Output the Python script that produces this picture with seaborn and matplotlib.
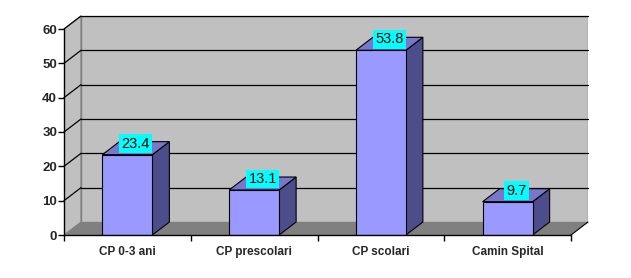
import matplotlib
matplotlib.use("Agg")
import matplotlib.pyplot as plt
from matplotlib.patches import Polygon
import seaborn as sns
import pandas as pd

categories = ["CP 0-3 ani", "CP prescolari", "CP scolari", "Camin Spital"]
values = [23.4, 13.1, 53.8, 9.7]
yticks = [0, 10, 20, 30, 40, 50, 60]

sns.set_theme(style="white")
plt.rcParams["font.family"] = ["Liberation Sans", "DejaVu Sans"]

W, H, DPI = 631, 278, 100
fig = plt.figure(figsize=(W / DPI, H / DPI), dpi=DPI)
# pixel geometry
x0_px, x1_px, xb_px = 64, 571, 588
y0_px, y60_px, yb_px = 235, 29, 16
ax = fig.add_axes([x0_px / W, (H - y0_px) / H, (xb_px - x0_px) / W, (y0_px - yb_px) / H])

ncat = len(categories)
dx = (xb_px - x1_px) * ncat / (x1_px - x0_px)
dy = (y60_px - yb_px) * 60 / (y0_px - y60_px)
ymax = 60
xl, xr = -0.5, ncat - 0.5

wall = "#C0C0C0"
edge = "#808080"
# left wall, back wall, floor
ax.add_patch(Polygon([(xl, 0), (xl, ymax), (xl + dx, ymax + dy), (xl + dx, dy)],
                     closed=True, facecolor=wall, edgecolor=edge, lw=0.8, zorder=0.3))
ax.add_patch(Polygon([(xl + dx, dy), (xl + dx, ymax + dy), (xr + dx, ymax + dy), (xr + dx, dy)],
                     closed=True, facecolor=wall, edgecolor=edge, lw=1.0, zorder=0.3))
ax.add_patch(Polygon([(xl, 0), (xr, 0), (xr + dx, dy), (xl + dx, dy)],
                     closed=True, facecolor="#808080", edgecolor="none", zorder=0.4))
ax.plot([xr, xr + dx], [0, dy], color="black", lw=0.8, zorder=0.5, clip_on=False)

# gridlines
for t in yticks[1:]:
    ax.plot([xl + dx, xr + dx], [t + dy, t + dy], color="black", lw=0.9, zorder=0.6, clip_on=False)
    ax.plot([xl, xl + dx], [t, t + dy], color="black", lw=0.9, zorder=0.6, clip_on=False)

df = pd.DataFrame({"cat": categories, "val": values})
bw = 50 / ((x1_px - x0_px) / ncat)
sns.barplot(data=df, x="cat", y="val", color="#9999FF", saturation=1, width=bw,
            edgecolor="black", linewidth=0.8, ax=ax, zorder=3)

for i, v in enumerate(values):
    l, r = i - bw / 2, i + bw / 2
    ax.add_patch(Polygon([(r, 0), (r, v), (r + dx, v + dy), (r + dx, dy)], closed=True,
                         facecolor="#4D4D8C", edgecolor="black", lw=0.8, zorder=2.9))
    ax.add_patch(Polygon([(l, v), (r, v), (r + dx, v + dy), (l + dx, v + dy)], closed=True,
                         facecolor="#7777CC", edgecolor="black", lw=0.8, zorder=2.9))
    ax.text(i + dx / 2, v + 1.2, f"{v}", ha="center", va="bottom", fontsize=10.5,
            color="black", zorder=5,
            bbox=dict(boxstyle="square,pad=0.16", facecolor="#00FFFF", edgecolor="none"))

ax.set_xlim(xl, xr + dx)
ax.set_ylim(0, ymax + dy)
ax.set_facecolor("none")
for s in ["top", "right"]:
    ax.spines[s].set_visible(False)
ax.spines["left"].set_bounds(0, ymax)
ax.spines["bottom"].set_bounds(xl, xr)
for s in ["left", "bottom"]:
    ax.spines[s].set_color("black")
    ax.spines[s].set_linewidth(1.0)
    ax.spines[s].set_zorder(4)

ax.set_yticks(yticks)
ax.set_yticklabels([str(t) for t in yticks], fontsize=9.5, fontweight="bold")
ax.set_xticks(range(ncat))
ax.set_xticklabels(categories, fontsize=8.5, fontweight="bold")
ax.set_xticks([xl + k for k in range(ncat + 1)], minor=True)
ax.tick_params(axis="y", which="major", direction="out", length=4, width=1, color="black", pad=1, left=True)
ax.tick_params(axis="x", which="major", length=0, pad=8, bottom=True)
ax.tick_params(axis="x", which="minor", direction="out", length=4, width=1, color="black", bottom=True)
ax.set_xlabel("")
ax.set_ylabel("")

fig.savefig("out.png", dpi=DPI, facecolor="white")
